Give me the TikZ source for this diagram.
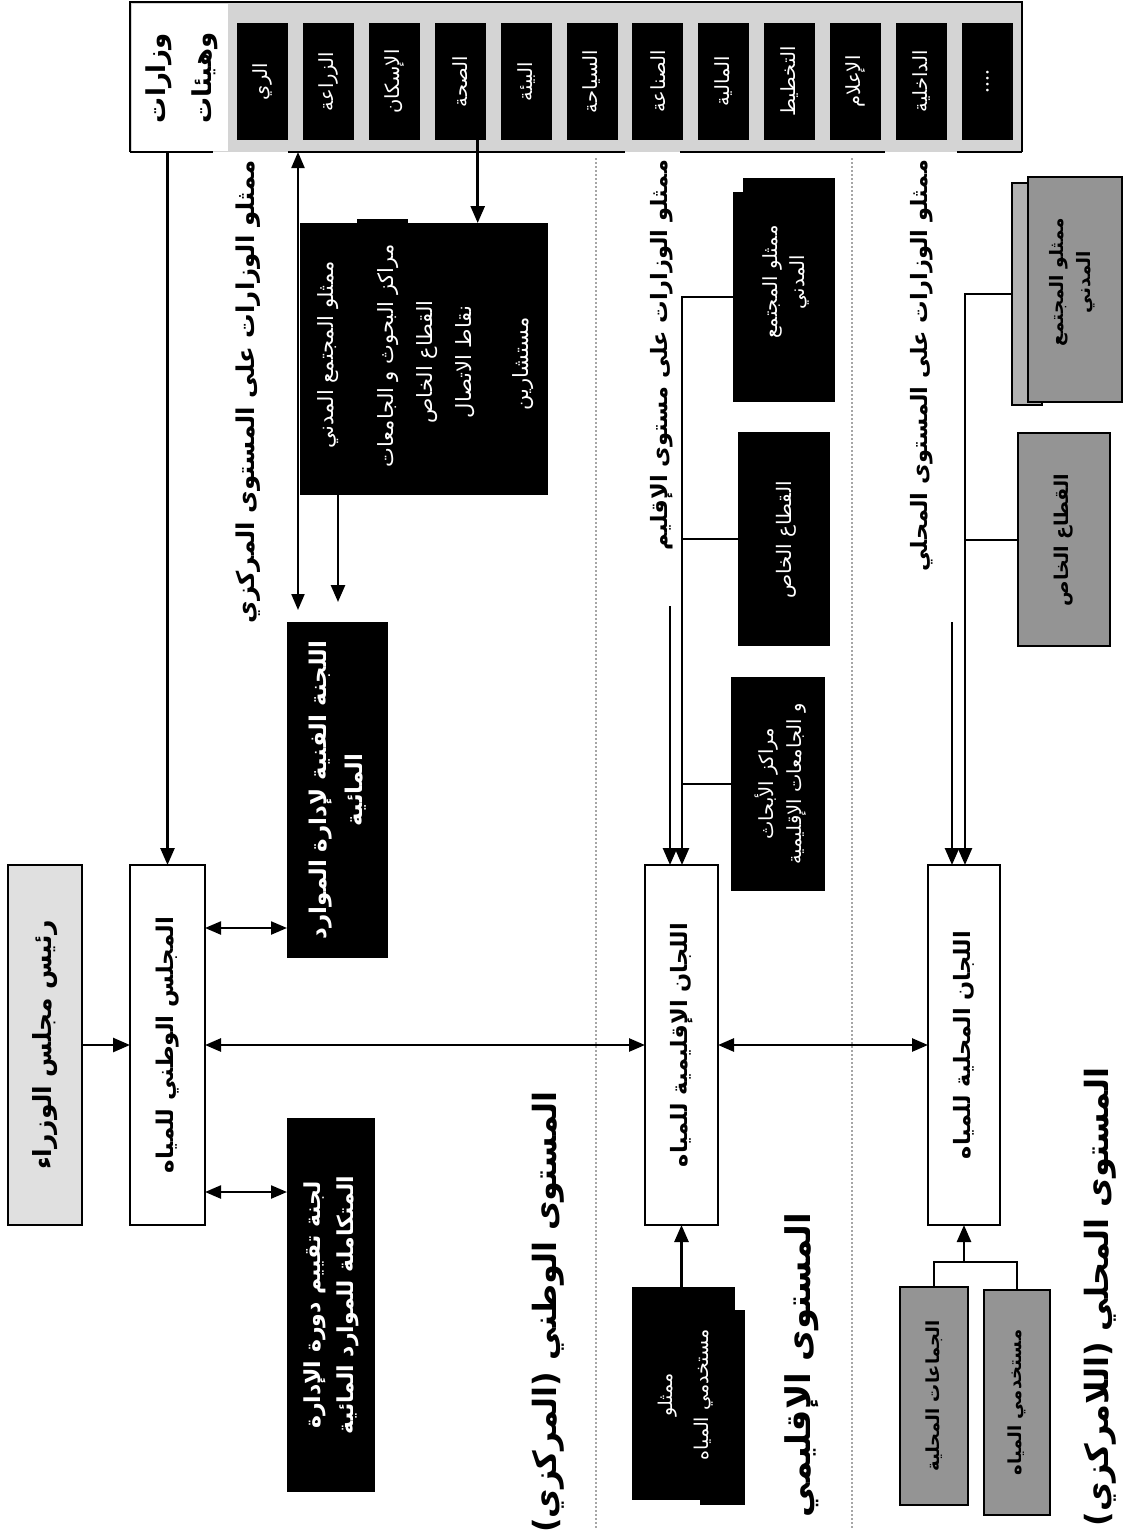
\documentclass[tikz,border=0pt]{standalone}
\usepackage{fontspec}
\newfontfamily\arabicfont[Script=Arabic]{DejaVu Sans}
\TeXXeTstate=1
\usetikzlibrary{arrows.meta}
\newcommand\AR[1]{{\arabicfont\beginR #1\endR}}
\newcommand\fs[2]{\fontsize{#1}{#2}\selectfont}
\begin{document}
\begin{tikzpicture}[x=1pt,y=-1pt,
  every node/.style={inner sep=0pt, outer sep=0pt},
  wbox/.style={draw, line width=2pt, fill=white},
  bbox/.style={fill=black},
  gbox/.style={draw, line width=2pt, fill=black!42},
  cellbox/.style={fill=black, minimum width=51, minimum height=117},
  txt/.style={rotate=90, align=center},
  wtxt/.style={rotate=90, align=center, text=white},
  ln/.style={line width=2pt},
  arr/.style={line width=2.6pt, -{Triangle[length=17pt,width=14pt]}},
  darr/.style={line width=2.2pt, {Triangle[length=16pt,width=13pt]}-{Triangle[length=16pt,width=13pt]}},
  sep/.style={line width=2.2pt, black!35, dash pattern=on 1.5pt off 2.5pt}]
\useasboundingbox (0,0) rectangle (1133,1532);
\fill[white] (0,0) rectangle (1133,1532);

% ---------- top strip of ministries ----------
\node[fill=black!17, minimum width=892, minimum height=150] (strip) at (576,77) {};
\draw[line width=2pt] (130,152) -- (130,2) -- (1022,2) -- (1022,152);
\draw[line width=2pt] (130,152) -- (213,152) (288,152) -- (625,152) (680,152) -- (885,152) (957,152) -- (1022,152);
\node[fill=white, minimum width=96, minimum height=147] (minhead) at (180,77.5) {};
\node[txt, font=\bfseries\fs{26}{46}] at (182,78) {\AR{وزارات}\\\AR{وهيئات}};
\foreach \i/\t in {0/الري,1/الزراعة,2/الإسكان,3/الصحة,4/البيئة,5/السياحة,6/الصناعة,7/المالية,8/التخطيط,9/الإعلام,10/الداخلية}{
  \node[cellbox] (cell\i) at ({262.5+65.9*\i},81.5) {};
  \node[wtxt, font=\fs{19.5}{22}] at (cell\i) {\AR{\t}};
}
\node[cellbox] (cell11) at ({262.5+65.9*11},81.5) {};
\node[wtxt, font=\bfseries\fs{19}{22}] at (cell11) {....};

% ---------- level separators ----------
\draw[sep] (596,158) -- (596,1530);
\draw[sep] (852,158) -- (852,1530);

% ---------- level heading labels ----------
\node[txt, anchor=east, font=\bfseries\fs{24.5}{28}] (h1) at (248,160) {\AR{ممثلو  الوزارات على المستوى المركزي}};
\node[txt, anchor=east, font=\bfseries\fs{22.5}{26}] (h2) at (662,160) {\AR{ممثلو  الوزارات على مستوى الإقليم}};
\node[txt, anchor=east, font=\bfseries\fs{22.5}{26}] (h3) at (922,160) {\AR{ممثلو  الوزارات على المستوى المحلي}};

% ---------- national level ----------
\node[bbox, minimum width=248, minimum height=272] (nat) at (424,359) {};
\fill (357,219) rectangle (408,224);
\node[wtxt, font=\fs{21}{24}] at (328,355) {\AR{ممثلو المجتمع المدني}};
\node[wtxt, font=\fs{21}{24}] at (388,356) {\AR{مراكز البحوث و الجامعات}};
\node[wtxt, font=\fs{21}{24}] at (427,362) {\AR{القطاع الخاص}};
\node[wtxt, font=\fs{21}{24}] at (465,362) {\AR{نقاط الاتصال}};
\node[wtxt, font=\fs{21}{24}] at (523,364) {\AR{مستشارين}};

\node[bbox, minimum width=101, minimum height=336] (tech) at (337.5,790) {};
\node[wtxt, font=\bfseries\fs{23}{36}] at (tech) {\AR{اللجنة الفنية لإدارة الموارد}\\\AR{المائية}};

\node[bbox, minimum width=88, minimum height=374] (eval) at (331,1305) {};
\node[wtxt, font=\bfseries\fs{22}{33}] at (eval) {\AR{لجنة تقييم دورة الإدارة}\\\AR{المتكاملة للموارد المائية}};

\node[wbox, minimum width=75, minimum height=360] (majlis) at (167.5,1045) {};
\node[txt, font=\bfseries\fs{23}{26}] at (majlis) {\AR{المجلس الوطني للمياه}};

\node[wbox, fill=black!12, minimum width=74, minimum height=360] (rais) at (45,1045) {};
\node[txt, font=\bfseries\fs{25}{28}] at (rais) {\AR{رئيس مجلس الوزراء}};

% ---------- regional level ----------
\node[wbox, minimum width=73, minimum height=360] (reg) at (681.5,1045) {};
\node[txt, font=\bfseries\fs{22.5}{26}] at (reg) {\AR{اللجان الإقليمية للمياه}};

\node[bbox, minimum width=45, minimum height=195] (usersb) at (722.5,1407.5) {};
\node[bbox, minimum width=103, minimum height=213] (users) at (683.5,1393.5) {};
\node[wtxt, font=\fs{19}{36}] at (686,1395) {\AR{ممثلو}\\\AR{مستخدمي المياه}};

\node[bbox, minimum width=27, minimum height=210] (rcsb) at (746.5,297) {};
\node[bbox, minimum width=92, minimum height=224] (rcs) at (789,290) {};
\node[wtxt, font=\fs{19.5}{27}] at (786,282) {\AR{ممثلو المجتمع}\\\AR{المدني}};

\node[bbox, minimum width=92, minimum height=214] (rpriv) at (784,539) {};
\node[wtxt, font=\fs{20}{22}] at (786,540) {\AR{القطاع الخاص}};

\node[bbox, minimum width=94, minimum height=214] (rres) at (778,784) {};
\node[wtxt, font=\fs{19.5}{28}] at (781,784) {\AR{مراكز الأبحاث}\\\AR{و الجامعات الإقليمية}};

% ---------- local level ----------
\node[wbox, minimum width=72, minimum height=360] (loc) at (964,1045) {};
\node[txt, font=\bfseries\fs{22.5}{26}] at (loc) {\AR{اللجان المحلية للمياه}};

\node[gbox, fill=black!30, minimum width=30, minimum height=222] (lcsb) at (1027,294) {};
\node[gbox, minimum width=94, minimum height=225] (lcs) at (1075,289.5) {};
\node[txt, font=\bfseries\fs{18.5}{27}] at (1072,282) {\AR{ممثلو المجتمع}\\\AR{المدني}};

\node[gbox, minimum width=92, minimum height=213] (lpriv) at (1064,539.5) {};
\node[txt, font=\bfseries\fs{19}{22}] at (1064,540) {\AR{القطاع الخاص}};

\node[gbox, minimum width=68, minimum height=218] (lgrp) at (934,1396) {};
\node[txt, font=\bfseries\fs{18}{22}] at (lgrp) {\AR{الجماعات المحلية}};
\node[gbox, minimum width=66, minimum height=225] (lusers) at (1017,1402.5) {};
\node[txt, font=\bfseries\fs{18}{22}] at (lusers) {\AR{مستخدمي المياه}};

% ---------- bottom level titles ----------
\node[txt, font=\bfseries\fs{32}{36}] (t1) at (548,1312) {\AR{المستوى الوطني (المركزي)}};
\node[txt, font=\bfseries\fs{34}{38}] (t2) at (802,1365) {\AR{المستوى الإقليمي}};
\node[txt, font=\bfseries\fs{32}{36}] (t3) at (1100,1297) {\AR{المستوى المحلي (اللامركزي)}};

% ---------- connectors ----------
\coordinate (yT) at (0,928);
\coordinate (yE) at (0,1192);
\draw[arr] (majlis.north |- strip.south) -- (majlis.north);
\draw[arr] (rais) -- (majlis);
\draw[darr] (majlis.east |- yT) -- (tech.west |- yT);
\draw[darr] (majlis.east |- yE) -- (eval.west |- yE);
\draw[darr, line width=2.6pt] (majlis) -- (reg);
\draw[darr, line width=2.6pt] (reg) -- (loc);
\draw[arr] ([xshift=17.5pt]cell3.south) -- ([xshift=17.5pt]cell3.south |- nat.north);
\draw[darr, shorten >=12pt] ([xshift=11pt]tech.north west |- strip.south) -- ([xshift=11pt]tech.north west);
\draw[arr, shorten >=20pt] ([xshift=-86pt]nat.south) -- ([xshift=-86pt]nat.south |- tech.north);

% regional tree
\coordinate (rt) at (682,0);
\coordinate (rs) at (670,606);
\draw[ln] (rcs.west |- rcsb.west) -| (rt |- rpriv.west);
\draw[arr] (rt |- rpriv.west) -- (reg.north -| rt);
\draw[ln] (rpriv.west) -- (rpriv.west -| rt);
\draw[ln] (rres.west) -- (rres.west -| rt);
\draw[arr] (rs) -- (rs |- reg.north);
\draw[arr] (users.north -| reg.south) -- (reg.south);

% local tree
\coordinate (lt) at (965,0);
\coordinate (ls) at (952,622);
\draw[ln] (lcsb.west) -| (lt |- lpriv.west);
\draw[arr] (lt |- lpriv.west) -- (loc.north -| lt);
\draw[ln] (lpriv.west) -- (lpriv.west -| lt);
\draw[arr] (ls) -- (ls |- loc.north);
\draw[ln] (lgrp.north) -- ++(0,-25) -| (lusers.north);
\coordinate (lb) at ([yshift=25pt]lgrp.north);
\draw[arr] (loc.south |- lb) -- (loc.south);
\end{tikzpicture}
\end{document}
